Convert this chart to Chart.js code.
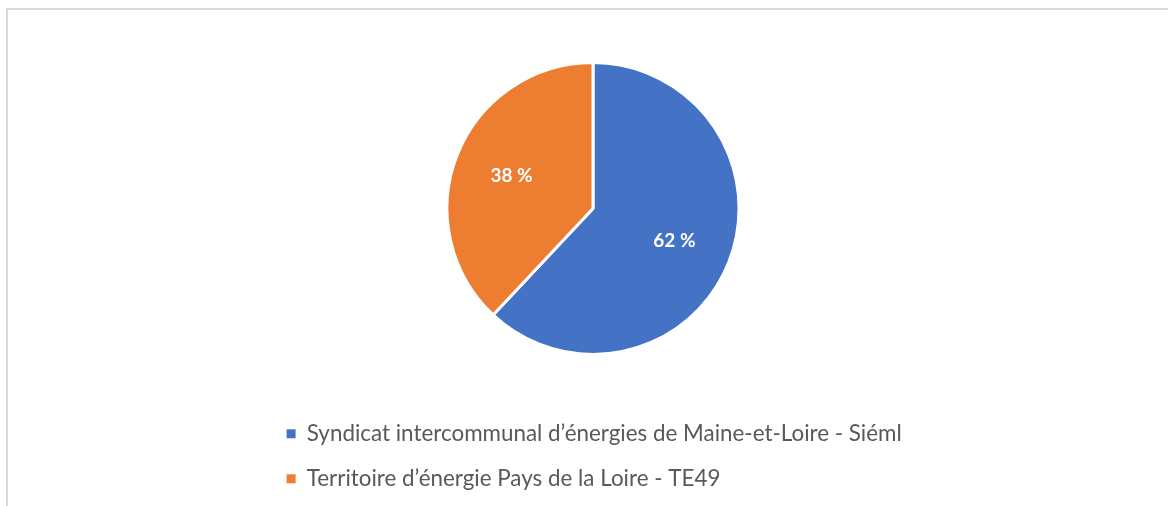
<!DOCTYPE html>
<html lang="fr">
<head>
    <meta charset="UTF-8">
    <title>Répartition</title>
    <style>
        body {
            margin: 0;
            background: #ffffff;
            overflow: hidden;
        }
        #frame {
            position: absolute;
            left: 6px;
            top: 8px;
            width: 1300px;
            height: 600px;
            border-left: 2px solid #d9d9d9;
            border-top: 2px solid #d9d9d9;
        }
        #chart-container {
            position: absolute;
            left: 0;
            top: 0;
            width: 1168px;
            height: 506px;
        }
    </style>
</head>
<body>
<div id="frame"></div>
<div id="chart-container">
    <canvas id="pieChart" width="1168" height="506"></canvas>
</div>
<script src="https://cdn.jsdelivr.net/npm/chart.js"></script>
<script>
    const labels = [
        'Syndicat intercommunal d’énergies de Maine-et-Loire - Siéml',
        'Territoire d’énergie Pays de la Loire - TE49'
    ];
    const shares = [62, 38];
    const colors = ['#4472C4', '#ED7D31'];

    // draws the "62 %" style labels inside the slices
    const sliceLabels = {
        id: 'sliceLabels',
        afterDatasetsDraw(chart) {
            const ctx = chart.ctx;
            const meta = chart.getDatasetMeta(0);
            ctx.save();
            ctx.fillStyle = '#ffffff';
            ctx.font = 'bold 19px Lato';
            ctx.textAlign = 'center';
            ctx.textBaseline = 'middle';
            meta.data.forEach((arc, i) => {
                const p = arc.getProps(['x', 'y', 'startAngle', 'endAngle', 'outerRadius'], true);
                const mid = (p.startAngle + p.endAngle) / 2;
                const r = p.outerRadius * 0.6;
                ctx.fillText(shares[i] + ' %', p.x + Math.cos(mid) * r, p.y + Math.sin(mid) * r);
            });
            ctx.restore();
        }
    };

    const defaultLabels = Chart.overrides.pie.plugins.legend.labels.generateLabels;

    const ctx = document.getElementById('pieChart').getContext('2d');
    const pieChart = new Chart(ctx, {
        type: 'pie',
        data: {
            labels: labels,
            datasets: [{
                data: shares,
                backgroundColor: colors,
                borderColor: '#ffffff',
                borderWidth: 3
            }]
        },
        options: {
            responsive: false,
            animation: false,
            radius: 146,
            layout: {
                padding: {left: 264, right: 246, top: 17, bottom: 6}
            },
            plugins: {
                legend: {
                    position: 'bottom',
                    align: 'start',
                    labels: {
                        boxWidth: 9,
                        boxHeight: 9,
                        padding: 22.6,
                        color: '#595959',
                        font: {family: 'Lato', size: 22.4},
                        // no white outline round the legend squares
                        generateLabels(chart) {
                            return defaultLabels(chart).map(item => {
                                item.lineWidth = 0;
                                item.strokeStyle = item.fillStyle;
                                return item;
                            });
                        }
                    }
                },
                tooltip: {enabled: false}
            }
        },
        plugins: [sliceLabels]
    });
</script>
</body>
</html>
